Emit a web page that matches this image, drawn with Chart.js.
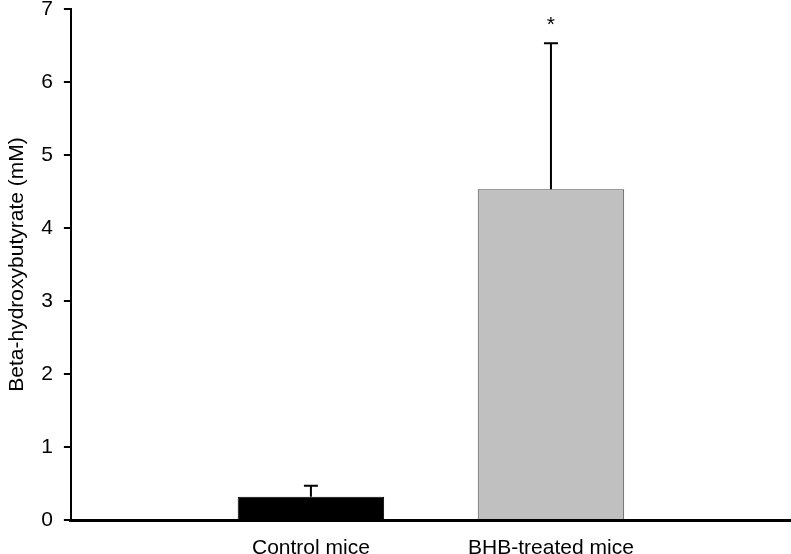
<!DOCTYPE html>
<html>
<head>
<meta charset="utf-8">
<title>Beta-hydroxybutyrate</title>
<script src="https://cdn.jsdelivr.net/npm/chart.js@4/dist/chart.umd.min.js"></script>
<style>
  html, body { margin: 0; padding: 0; background: #fff; }
  #wrap { width: 791px; height: 554px; }
</style>
</head>
<body>
<div id="wrap"><canvas id="bhbChart"></canvas></div>
<script>
// ---- data ----
const groups = ["", "Control mice", "BHB-treated mice", ""];
const means = [null, 0.32, 4.53, null];
const errors = [null, 0.15, 2.0, null];
const marks = ["", "", "*", ""];
const yMin = 0;
const yMax = 7;
const yStep = 1;

// error bars (upper half only) + significance star
const errorBarPlugin = {
  id: "errorBars",
  afterDatasetsDraw(chart) {
    const ctx = chart.ctx;
    const yScale = chart.scales.y;
    const meta = chart.getDatasetMeta(0);
    ctx.save();
    ctx.strokeStyle = "#000";
    ctx.lineWidth = 2;
    meta.data.forEach((bar, i) => {
      if (means[i] == null) return;
      const x = bar.x;
      const yTop = yScale.getPixelForValue(means[i] + errors[i]);
      ctx.beginPath();
      ctx.moveTo(x, bar.y);
      ctx.lineTo(x, yTop);
      ctx.moveTo(x - 7, yTop);
      ctx.lineTo(x + 7, yTop);
      ctx.stroke();
      if (marks[i]) {
        ctx.fillStyle = "#000";
        ctx.font = "21px 'Liberation Sans', Arial, sans-serif";
        ctx.textAlign = "center";
        ctx.textBaseline = "alphabetic";
        ctx.fillText(marks[i], x, yTop - 12);
      }
    });
    ctx.restore();
  }
};

Chart.defaults.font.family = "'Liberation Sans', Arial, sans-serif";
Chart.defaults.color = "#000";

new Chart(document.getElementById("bhbChart"), {
  type: "bar",
  data: {
    labels: groups,
    datasets: [{
      data: means,
      backgroundColor: ["#000", "#000", "#c0c0c0", "#c0c0c0"],
      borderColor: ["#000", "#000", "#4a4a4a", "#4a4a4a"],
      borderWidth: 1,
      categoryPercentage: 1,
      barPercentage: 0.61
    }]
  },
  options: {
    responsive: true,
    maintainAspectRatio: false,
    animation: false,
    layout: { padding: { left: 3, right: -5, top: 0, bottom: 0 } },
    plugins: {
      legend: { display: false },
      tooltip: { enabled: false }
    },
    scales: {
      x: {
        offset: false,
        grid: { display: false },
        border: { display: true, color: "#000", width: 3 },
        ticks: {
          padding: 10,
          autoSkip: false,
          maxRotation: 0,
          font: { size: 21, lineHeight: 1 }
        },
        afterFit(scale) {
          scale.height = 34;
          scale.paddingRight = 0;
        }
      },
      y: {
        min: yMin,
        max: yMax,
        grid: {
          drawOnChartArea: false,
          drawTicks: true,
          tickLength: 7,
          color: "#000",
          lineWidth: 2
        },
        border: { display: true, color: "#000", width: 2 },
        ticks: {
          stepSize: yStep,
          padding: 11,
          font: { size: 21, lineHeight: 1 }
        },
        title: {
          display: true,
          text: "Beta-hydroxybutyrate (mM)",
          font: { size: 21 },
          padding: { top: 2, bottom: 0 }
        },
        afterFit(scale) {
          scale.paddingTop = 9;
          scale.paddingBottom = 0;
        }
      }
    }
  },
  plugins: [errorBarPlugin]
});
</script>
</body>
</html>
